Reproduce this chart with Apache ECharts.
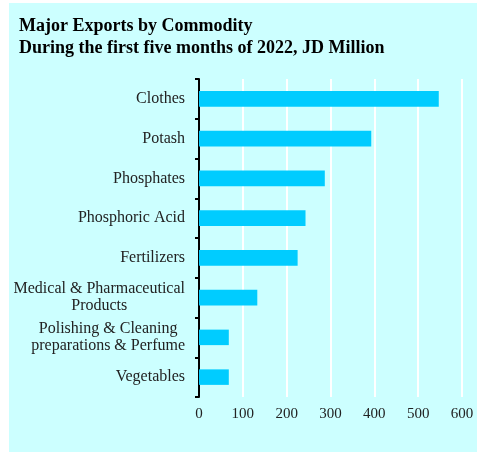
<!DOCTYPE html>
<html>
<head>
<meta charset="utf-8">
<script src="https://cdn.jsdelivr.net/npm/echarts@6/dist/echarts.min.js"></script>
<style>
  html, body { margin: 0; padding: 0; background: #ffffff; }
  #chart { position: absolute; left: 9px; top: 3px; width: 468px; height: 449px; }
</style>
</head>
<body>
<div id="chart"></div>
<script>
// Export commodities, top to bottom
const categories = [
  'Clothes',
  'Potash',
  'Phosphates',
  'Phosphoric Acid',
  'Fertilizers',
  'Medical & Pharmaceutical\nProducts',
  'Polishing & Cleaning\npreparations & Perfume',
  'Vegetables'
];
// Export value, JD million
const exportValues = [547, 393, 287, 243, 225, 133, 68, 68];
const xTicks = [0, 100, 200, 300, 400, 500, 600];

const serif = 'Liberation Serif, Times New Roman, serif';
const chart = echarts.init(document.getElementById('chart'));
chart.setOption({
  backgroundColor: '#CCFFFF',
  animation: false,
  title: {
    text: 'Major Exports by Commodity\nDuring the first five months of 2022, JD Million',
    left: 5,
    top: 7,
    textStyle: {
      fontFamily: serif,
      fontWeight: 'bold',
      fontSize: 18,
      lineHeight: 22,
      color: '#000000'
    }
  },
  grid: { left: 190, right: 15, top: 76, bottom: 55 },
  xAxis: {
    type: 'value',
    min: xTicks[0],
    max: xTicks[xTicks.length - 1],
    interval: 100,
    axisLine: { show: false },
    axisTick: { show: false },
    splitLine: { show: true, lineStyle: { color: '#ffffff', width: 2 } },
    axisLabel: {
      margin: 10,
      fontFamily: serif,
      fontSize: 15,
      color: '#222222'
    }
  },
  yAxis: {
    type: 'category',
    data: categories,
    inverse: true,
    axisLine: { show: true, lineStyle: { color: '#000000', width: 2 } },
    axisTick: { show: true, length: 4, lineStyle: { color: '#000000', width: 2 } },
    splitLine: { show: false },
    axisLabel: {
      margin: 14,
      fontFamily: serif,
      fontSize: 16,
      lineHeight: 17,
      color: '#222222',
      align: 'right',
      // each line centred within the right-aligned label block
      formatter: (v) => v.split('\n').map((s) => '{c|' + s + '}').join('\n'),
      rich: {
        c: {
          align: 'center',
          fontFamily: serif,
          fontSize: 16,
          lineHeight: 17,
          color: '#222222'
        }
      }
    }
  },
  series: [{
    type: 'bar',
    data: exportValues,
    barWidth: '39%',
    itemStyle: { color: '#00CCFF' }
  }]
});
</script>
</body>
</html>
